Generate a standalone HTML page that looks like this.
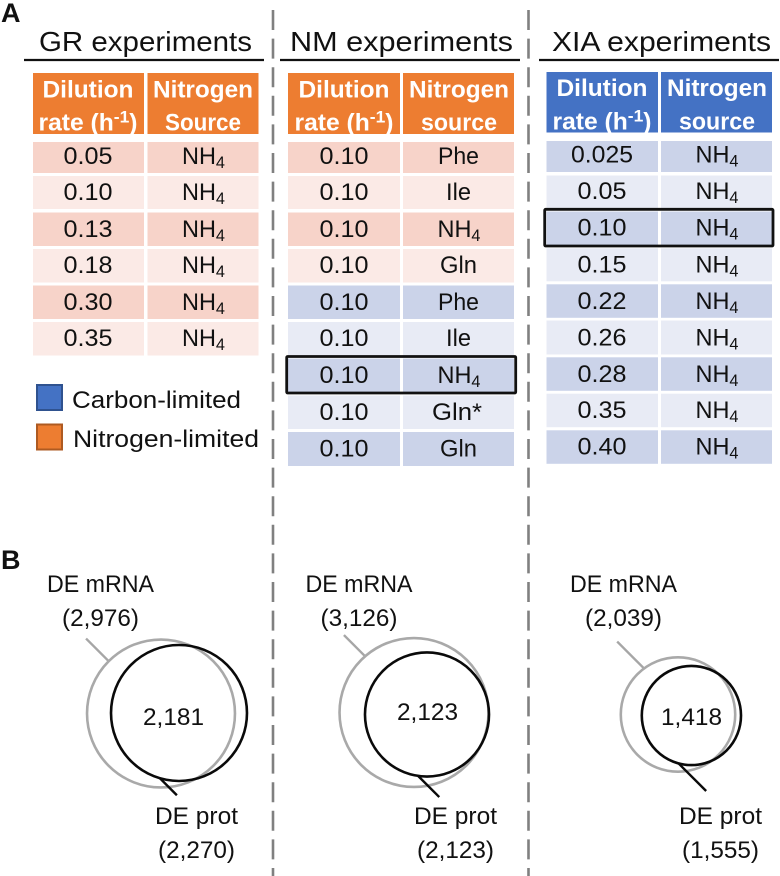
<!DOCTYPE html>
<html lang="en">
<head>
<meta charset="utf-8">
<title>Experiments and DE overlap</title>
<style>
html,body{margin:0;padding:0;background:#fff;width:780px;height:876px;overflow:hidden}
svg{display:block}
text{font-family:"Liberation Sans",sans-serif;fill:#111}
.t{font-size:28px}
.h{font-size:24px;font-weight:bold;fill:#fff;text-anchor:middle}
.c{font-size:24.5px;text-anchor:middle}
.l{font-size:24.5px}
.p{font-size:27px;font-weight:bold}
.s{font-size:17px}
.o1{fill:#f7d3c9}.o2{fill:#fbeae6}.b1{fill:#cbd3e9}.b2{fill:#e8ebf5}
.hl{fill:none;stroke:#111;stroke-width:2.8}
</style>
</head>
<body>
<svg xmlns="http://www.w3.org/2000/svg" width="780" height="876" viewBox="0 0 780 876">
<rect width="780" height="876" fill="#fff"/>
<text class="p" x="1" y="22">A</text>
<text class="p" x="1" y="569">B</text>

<line x1="273" y1="10" x2="273" y2="876" stroke="#808080" stroke-width="2.6" stroke-dasharray="20 8.6"/>
<line x1="528.5" y1="10" x2="528.5" y2="876" stroke="#808080" stroke-width="2.6" stroke-dasharray="20 8.6"/>

<text class="t" x="39" y="51" textLength="213" lengthAdjust="spacingAndGlyphs">GR experiments</text>
<line x1="24" y1="60" x2="264" y2="60" stroke="#111" stroke-width="2.2"/>
<text class="t" x="290" y="51" textLength="223" lengthAdjust="spacingAndGlyphs">NM experiments</text>
<line x1="280" y1="60" x2="520" y2="60" stroke="#111" stroke-width="2.2"/>
<text class="t" x="552" y="51" textLength="219" lengthAdjust="spacingAndGlyphs">XIA experiments</text>
<line x1="539" y1="60" x2="779" y2="60" stroke="#111" stroke-width="2.2"/>

<g>
<rect x="33" y="73" width="111" height="61" fill="#ed7d31"/>
<rect x="147.5" y="73" width="111" height="61" fill="#ed7d31"/>
<text class="h" x="88" y="97.5" textLength="91" lengthAdjust="spacingAndGlyphs">Dilution</text>
<text class="h" x="88" y="130.5" textLength="99" lengthAdjust="spacingAndGlyphs">rate (h<tspan class="s" dy="-8">-1</tspan><tspan dy="8">)</tspan></text>
<text class="h" x="203" y="97.5" textLength="100" lengthAdjust="spacingAndGlyphs">Nitrogen</text>
<text class="h" x="203" y="130.5" textLength="76" lengthAdjust="spacingAndGlyphs">Source</text>

<g><rect class="o1" x="33" y="142" width="111" height="31"/><rect class="o1" x="147.5" y="142" width="111" height="31"/><text class="c" x="88" y="164" textLength="49" lengthAdjust="spacingAndGlyphs">0.05</text><text class="c" x="203.5" y="164" textLength="43" lengthAdjust="spacingAndGlyphs">NH<tspan class="s" dy="4">4</tspan></text></g>
<g><rect class="o2" x="33" y="176" width="111" height="33"/><rect class="o2" x="147.5" y="176" width="111" height="33"/><text class="c" x="88" y="200" textLength="49" lengthAdjust="spacingAndGlyphs">0.10</text><text class="c" x="203.5" y="200" textLength="43" lengthAdjust="spacingAndGlyphs">NH<tspan class="s" dy="4">4</tspan></text></g>
<g><rect class="o1" x="33" y="212.5" width="111" height="33.5"/><rect class="o1" x="147.5" y="212.5" width="111" height="33.5"/><text class="c" x="88" y="237" textLength="49" lengthAdjust="spacingAndGlyphs">0.13</text><text class="c" x="203.5" y="237" textLength="43" lengthAdjust="spacingAndGlyphs">NH<tspan class="s" dy="4">4</tspan></text></g>
<g><rect class="o2" x="33" y="249" width="111" height="33.5"/><rect class="o2" x="147.5" y="249" width="111" height="33.5"/><text class="c" x="88" y="273" textLength="49" lengthAdjust="spacingAndGlyphs">0.18</text><text class="c" x="203.5" y="273" textLength="43" lengthAdjust="spacingAndGlyphs">NH<tspan class="s" dy="4">4</tspan></text></g>
<g><rect class="o1" x="33" y="285.5" width="111" height="33.5"/><rect class="o1" x="147.5" y="285.5" width="111" height="33.5"/><text class="c" x="88" y="310" textLength="49" lengthAdjust="spacingAndGlyphs">0.30</text><text class="c" x="203.5" y="310" textLength="43" lengthAdjust="spacingAndGlyphs">NH<tspan class="s" dy="4">4</tspan></text></g>
<g><rect class="o2" x="33" y="322" width="111" height="33.5"/><rect class="o2" x="147.5" y="322" width="111" height="33.5"/><text class="c" x="88" y="346" textLength="49" lengthAdjust="spacingAndGlyphs">0.35</text><text class="c" x="203.5" y="346" textLength="43" lengthAdjust="spacingAndGlyphs">NH<tspan class="s" dy="4">4</tspan></text></g>
</g>

<g>
<rect x="37" y="385" width="25" height="25" fill="#4472c4" stroke="#2f528f" stroke-width="2"/>
<text class="l" x="72" y="408" textLength="169" lengthAdjust="spacingAndGlyphs">Carbon-limited</text>
<rect x="37" y="424.500" width="25" height="25" fill="#ed7d31" stroke="#ae5a21" stroke-width="2"/>
<text class="l" x="73" y="447" textLength="186" lengthAdjust="spacingAndGlyphs">Nitrogen-limited</text>
</g>

<g>
<rect x="288" y="73" width="112" height="61" fill="#ed7d31"/>
<rect x="403" y="73" width="111" height="61" fill="#ed7d31"/>
<text class="h" x="344" y="97.5" textLength="91" lengthAdjust="spacingAndGlyphs">Dilution</text>
<text class="h" x="344" y="130.5" textLength="99" lengthAdjust="spacingAndGlyphs">rate (h<tspan class="s" dy="-8">-1</tspan><tspan dy="8">)</tspan></text>
<text class="h" x="459" y="97.5" textLength="100" lengthAdjust="spacingAndGlyphs">Nitrogen</text>
<text class="h" x="459" y="130.5" textLength="76" lengthAdjust="spacingAndGlyphs">source</text>

<g><rect class="o1" x="288" y="142" width="112" height="31"/><rect class="o1" x="403" y="142" width="111" height="31"/><text class="c" x="344" y="164" textLength="49" lengthAdjust="spacingAndGlyphs">0.10</text><text class="c" x="458.500" y="164" textLength="41" lengthAdjust="spacingAndGlyphs">Phe</text></g>
<g><rect class="o2" x="288" y="176" width="112" height="33"/><rect class="o2" x="403" y="176" width="111" height="33"/><text class="c" x="344" y="200" textLength="49" lengthAdjust="spacingAndGlyphs">0.10</text><text class="c" x="458.500" y="200" textLength="25" lengthAdjust="spacingAndGlyphs">Ile</text></g>
<g><rect class="o1" x="288" y="212.5" width="112" height="33.5"/><rect class="o1" x="403" y="212.5" width="111" height="33.5"/><text class="c" x="344" y="237" textLength="49" lengthAdjust="spacingAndGlyphs">0.10</text><text class="c" x="459" y="237" textLength="43" lengthAdjust="spacingAndGlyphs">NH<tspan class="s" dy="4">4</tspan></text></g>
<g><rect class="o2" x="288" y="249" width="112" height="33.5"/><rect class="o2" x="403" y="249" width="111" height="33.5"/><text class="c" x="344" y="273" textLength="49" lengthAdjust="spacingAndGlyphs">0.10</text><text class="c" x="458.500" y="273" textLength="37" lengthAdjust="spacingAndGlyphs">Gln</text></g>
<g><rect class="b1" x="288" y="285.5" width="112" height="33.5"/><rect class="b1" x="403" y="285.5" width="111" height="33.5"/><text class="c" x="344" y="310" textLength="49" lengthAdjust="spacingAndGlyphs">0.10</text><text class="c" x="458.500" y="310" textLength="41" lengthAdjust="spacingAndGlyphs">Phe</text></g>
<g><rect class="b2" x="288" y="322" width="112" height="33.5"/><rect class="b2" x="403" y="322" width="111" height="33.5"/><text class="c" x="344" y="346" textLength="49" lengthAdjust="spacingAndGlyphs">0.10</text><text class="c" x="458.500" y="346" textLength="25" lengthAdjust="spacingAndGlyphs">Ile</text></g>
<g><rect class="b1" x="288" y="358.500" width="112" height="34"/><rect class="b1" x="403" y="358.500" width="111" height="34"/><text class="c" x="344" y="383" textLength="49" lengthAdjust="spacingAndGlyphs">0.10</text><text class="c" x="459" y="383" textLength="43" lengthAdjust="spacingAndGlyphs">NH<tspan class="s" dy="4">4</tspan></text></g>
<g><rect class="b2" x="288" y="395.500" width="112" height="33.5"/><rect class="b2" x="403" y="395.500" width="111" height="33.5"/><text class="c" x="344" y="420" textLength="49" lengthAdjust="spacingAndGlyphs">0.10</text><text class="c" x="457" y="420" textLength="50" lengthAdjust="spacingAndGlyphs">Gln*</text></g>
<g><rect class="b1" x="288" y="432" width="112" height="34"/><rect class="b1" x="403" y="432" width="111" height="34"/><text class="c" x="344" y="456.500" textLength="49" lengthAdjust="spacingAndGlyphs">0.10</text><text class="c" x="458.500" y="456.500" textLength="37" lengthAdjust="spacingAndGlyphs">Gln</text></g>
<rect class="hl" x="286.700" y="356.500" width="229" height="36.500" rx="1"/>
</g>

<g>
<rect x="546.500" y="72" width="111.500" height="60.500" fill="#4472c4"/>
<rect x="661" y="72" width="111" height="60.500" fill="#4472c4"/>
<text class="h" x="602" y="96" textLength="91" lengthAdjust="spacingAndGlyphs">Dilution</text>
<text class="h" x="602" y="129.500" textLength="99" lengthAdjust="spacingAndGlyphs">rate (h<tspan class="s" dy="-8">-1</tspan><tspan dy="8">)</tspan></text>
<text class="h" x="717" y="96" textLength="100" lengthAdjust="spacingAndGlyphs">Nitrogen</text>
<text class="h" x="717" y="129.500" textLength="76" lengthAdjust="spacingAndGlyphs">source</text>

<g><rect class="b1" x="546.500" y="141" width="111.500" height="31"/><rect class="b1" x="661" y="141" width="111" height="31"/><text class="c" x="602" y="162.700" textLength="62" lengthAdjust="spacingAndGlyphs">0.025</text><text class="c" x="717" y="162.700" textLength="43" lengthAdjust="spacingAndGlyphs">NH<tspan class="s" dy="4">4</tspan></text></g>
<g><rect class="b2" x="546.500" y="175.500" width="111.500" height="33"/><rect class="b2" x="661" y="175.500" width="111" height="33"/><text class="c" x="602" y="199" textLength="49" lengthAdjust="spacingAndGlyphs">0.05</text><text class="c" x="717" y="199" textLength="43" lengthAdjust="spacingAndGlyphs">NH<tspan class="s" dy="4">4</tspan></text></g>
<g><rect class="b1" x="546.500" y="211.500" width="111.500" height="34"/><rect class="b1" x="661" y="211.500" width="111" height="34"/><text class="c" x="602" y="235.700" textLength="49" lengthAdjust="spacingAndGlyphs">0.10</text><text class="c" x="717" y="235.700" textLength="43" lengthAdjust="spacingAndGlyphs">NH<tspan class="s" dy="4">4</tspan></text></g>
<g><rect class="b2" x="546.500" y="248.300" width="111.500" height="33"/><rect class="b2" x="661" y="248.300" width="111" height="33"/><text class="c" x="602" y="272.700" textLength="49" lengthAdjust="spacingAndGlyphs">0.15</text><text class="c" x="717" y="272.700" textLength="43" lengthAdjust="spacingAndGlyphs">NH<tspan class="s" dy="4">4</tspan></text></g>
<g><rect class="b1" x="546.500" y="284.300" width="111.500" height="33.500"/><rect class="b1" x="661" y="284.300" width="111" height="33.500"/><text class="c" x="602" y="309" textLength="49" lengthAdjust="spacingAndGlyphs">0.22</text><text class="c" x="717" y="309" textLength="43" lengthAdjust="spacingAndGlyphs">NH<tspan class="s" dy="4">4</tspan></text></g>
<g><rect class="b2" x="546.500" y="320.500" width="111.500" height="34"/><rect class="b2" x="661" y="320.500" width="111" height="34"/><text class="c" x="602" y="345.700" textLength="49" lengthAdjust="spacingAndGlyphs">0.26</text><text class="c" x="717" y="345.700" textLength="43" lengthAdjust="spacingAndGlyphs">NH<tspan class="s" dy="4">4</tspan></text></g>
<g><rect class="b1" x="546.500" y="357.300" width="111.500" height="33.500"/><rect class="b1" x="661" y="357.300" width="111" height="33.500"/><text class="c" x="602" y="382" textLength="49" lengthAdjust="spacingAndGlyphs">0.28</text><text class="c" x="717" y="382" textLength="43" lengthAdjust="spacingAndGlyphs">NH<tspan class="s" dy="4">4</tspan></text></g>
<g><rect class="b2" x="546.500" y="393.700" width="111.500" height="33.500"/><rect class="b2" x="661" y="393.700" width="111" height="33.500"/><text class="c" x="602" y="418" textLength="49" lengthAdjust="spacingAndGlyphs">0.35</text><text class="c" x="717" y="418" textLength="43" lengthAdjust="spacingAndGlyphs">NH<tspan class="s" dy="4">4</tspan></text></g>
<g><rect class="b1" x="546.500" y="430.300" width="111.500" height="33.500"/><rect class="b1" x="661" y="430.300" width="111" height="33.500"/><text class="c" x="602" y="454.700" textLength="49" lengthAdjust="spacingAndGlyphs">0.40</text><text class="c" x="717" y="454.700" textLength="43" lengthAdjust="spacingAndGlyphs">NH<tspan class="s" dy="4">4</tspan></text></g>
<rect class="hl" x="544.700" y="209.300" width="228.300" height="36.700" rx="1"/>
</g>

<g id="venns"></g>
</svg>

<script>
// Data
const experiments = ["gr", "nm", "xia"];
const mrnaCounts = [2976, 3126, 2039];
const protCounts = [2270, 2123, 1555];
const overlapCounts = [2181, 2123, 1418];

// Layout of each Venn panel (not data)
const mrnaScale = [1.356, 1.332, 1.267];
const protScale = [1.427, 1.346, 1.258];
const panelCentreX = [161, 414, 678];
const panelCentreY = [713.5, 712.5, 714.5];
const protOffsetX = [18, 13, 13.4];
const protOffsetY = [-0.5, 2, 1];
const mrnaLeaderAngle = [225, 229, 233.6];
const mrnaLeaderLength = [32, 30, 38];
const protLeaderAngle = [106.3, 98.3, 105];
const protLeaderLength = [24, 30, 39];
const overlapLabelX = [173.5, 427.5, 691.5];
const overlapLabelY = [725, 720, 725];
const mrnaLabelX = [100.5, 359, 623.5];
const protLabelX = [196.5, 455.5, 720.5];

const NS = "http://www.w3.org/2000/svg";
const root = document.getElementById("venns");
const fmt = function (n) { return n.toLocaleString("en-US"); };
const rad = function (deg) { return deg * Math.PI / 180; };

// Axis function: area-proportional radius
function radius(value, scale) { return scale * Math.sqrt(value); }

function addText(parent, cls, x, y, len, str) {
  const t = document.createElementNS(NS, "text");
  t.setAttribute("class", cls);
  t.setAttribute("x", x);
  t.setAttribute("y", y);
  t.setAttribute("text-anchor", "middle");
  t.setAttribute("textLength", len);
  t.setAttribute("lengthAdjust", "spacingAndGlyphs");
  t.textContent = str;
  parent.appendChild(t);
  return t;
}

function addCircle(parent, cx, cy, r, colour) {
  const c = document.createElementNS(NS, "circle");
  c.setAttribute("cx", cx);
  c.setAttribute("cy", cy);
  c.setAttribute("r", r);
  c.setAttribute("fill", "none");
  c.setAttribute("stroke", colour);
  c.setAttribute("stroke-width", "2.6");
  parent.appendChild(c);
  return c;
}

function addLine(parent, x1, y1, x2, y2, colour) {
  const l = document.createElementNS(NS, "line");
  l.setAttribute("x1", x1);
  l.setAttribute("y1", y1);
  l.setAttribute("x2", x2);
  l.setAttribute("y2", y2);
  l.setAttribute("stroke", colour);
  l.setAttribute("stroke-width", "2.4");
  parent.appendChild(l);
  return l;
}

experiments.forEach(function (name, i) {
  const g = document.createElementNS(NS, "g");
  
  
  root.appendChild(g);

  const cx = panelCentreX[i];
  const cy = panelCentreY[i];
  const rMrna = radius(mrnaCounts[i], mrnaScale[i]);
  const rProt = radius(protCounts[i], protScale[i]);
  const px = cx + protOffsetX[i];
  const py = cy + protOffsetY[i];

  const mAngle = rad(mrnaLeaderAngle[i]);
  const mx = cx + rMrna * Math.cos(mAngle);
  const my = cy + rMrna * Math.sin(mAngle);
  const mLeader = addLine(g, mx, my, mx - mrnaLeaderLength[i] * Math.SQRT1_2, my - mrnaLeaderLength[i] * Math.SQRT1_2, "#a6a6a6");
  
  

  const mCircle = addCircle(g, cx, cy, rMrna, "#a9a9a9");
  
  

  const pCircle = addCircle(g, px, py, rProt, "#0a0a0a");
  
  

  const pAngle = rad(protLeaderAngle[i]);
  const sx = px + rProt * Math.cos(pAngle);
  const sy = py + rProt * Math.sin(pAngle);
  const pLeader = addLine(g, sx, sy, sx + protLeaderLength[i] * Math.SQRT1_2, sy + protLeaderLength[i] * Math.SQRT1_2, "#0a0a0a");
  
  

  const mTitle = addText(g, "l", mrnaLabelX[i], 592, 107, "DE mRNA");
  
  

  const mCount = addText(g, "l", mrnaLabelX[i], 626, 77, "(" + fmt(mrnaCounts[i]) + ")");
  
  

  const oCount = addText(g, "l", overlapLabelX[i], overlapLabelY[i], 61, fmt(overlapCounts[i]));
  
  

  const pTitle = addText(g, "l", protLabelX[i], 824, 83, "DE prot");
  
  

  const pCount = addText(g, "l", protLabelX[i], 858, 77, "(" + fmt(protCounts[i]) + ")");
  
  
});
</script>
</body>
</html>
